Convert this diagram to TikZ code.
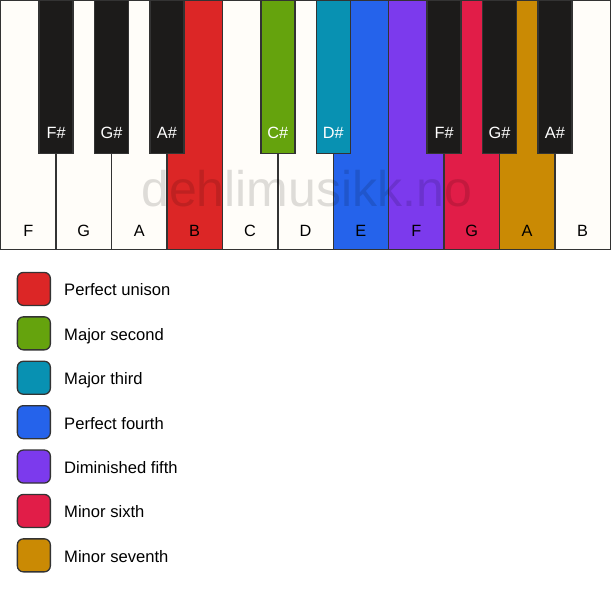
\documentclass[tikz,border=0pt]{standalone}
\usepackage{fontspec}
\setmainfont{Liberation Sans}
\definecolor{ivory}{HTML}{FFFDF9}
\definecolor{keyblack}{HTML}{1C1B1A}
\definecolor{keyline}{HTML}{333333}
\definecolor{cred}{HTML}{DC2626}
\definecolor{cgreen}{HTML}{65A30D}
\definecolor{ccyan}{HTML}{0891B2}
\definecolor{cblue}{HTML}{2563EB}
\definecolor{cviolet}{HTML}{7C3AED}
\definecolor{crose}{HTML}{E11D48}
\definecolor{camber}{HTML}{CA8A04}
\begin{document}
\begin{tikzpicture}[x=1pt,y=-1pt,
  whitekey/.style={draw=keyline, line width=1.4pt, minimum width=55.42pt, minimum height=248.8pt, inner sep=0pt, outer sep=0pt, anchor=north west},
  blackkey/.style={draw=keyline, line width=1.4pt, minimum width=34pt, minimum height=153pt, inner sep=0pt, outer sep=0pt, anchor=north},
  keyfont/.style={font=\fontsize{16.3}{19}\selectfont, inner sep=0pt, anchor=base},
  legbox/.style={draw=keyline, line width=1.3pt, rounded corners=6pt, minimum size=33pt, inner sep=0pt, anchor=north west},
  legtext/.style={font=\fontsize{16.6}{19}\selectfont, inner sep=0pt, anchor=base west}
]
\useasboundingbox (0,0) rectangle (611,594);
\fill[white] (0,0) rectangle (611,594);
% white keys
\foreach \n/\c [count=\i from 0] in {F/ivory,G/ivory,A/ivory,B/cred,C/ivory,D/ivory,E/cblue,F/cviolet,G/crose,A/camber,B/ivory}{
  \node[whitekey, fill=\c] (wk\i) at (0.7+55.42*\i,0.7) {};
  \node[keyfont] (wl\i) at (28.4+55.42*\i,236) {\n};
}
% watermark
\node[font=\fontsize{50}{56}\selectfont, text=black, text opacity=0.13, inner sep=0pt, anchor=base] (wm) at (306.7,206.7) {dehlimusikk.no};
% black keys
\foreach \n/\c/\k in {F\#/keyblack/1,G\#/keyblack/2,A\#/keyblack/3,C\#/cgreen/5,D\#/ccyan/6,F\#/keyblack/8,G\#/keyblack/9,A\#/keyblack/10}{
  \node[blackkey, fill=\c] (bk\k) at (0.7+55.42*\k,0.7) {};
  \node[keyfont, text=white] (bl\k) at (0.7+55.42*\k,139) {\n};
}
% legend
\foreach \t/\c [count=\i from 0] in {Perfect unison/cred,Major second/cgreen,Major third/ccyan,Perfect fourth/cblue,Diminished fifth/cviolet,Minor sixth/crose,Minor seventh/camber}{
  \node[legbox, fill=\c] (lb\i) at (16.7,271.8+44.4*\i) {};
  \node[legtext] (lt\i) at (64,295.8+44.4*\i) {\t};
}
\end{tikzpicture}
\end{document}
